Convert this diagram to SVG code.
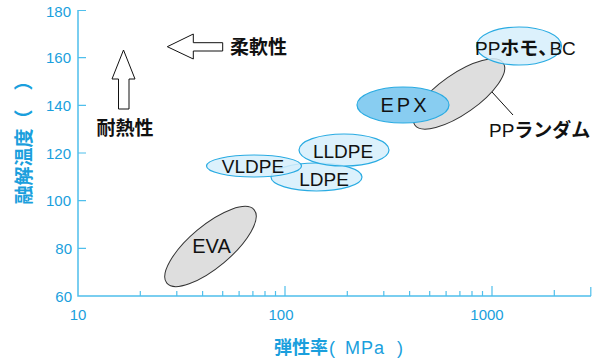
<svg xmlns="http://www.w3.org/2000/svg" width="605" height="364" viewBox="0 0 605 364">
  <style>
    .axis { stroke: #4fbfec; stroke-width: 1.5; fill: none; }
    .tick { stroke: #4fbfec; stroke-width: 1.2; fill: none; }
    .num { font-family: "Liberation Sans", Arial, sans-serif; font-size: 15px; fill: #1a9fdd; }
    .ylab { text-anchor: end; }
    .xlab { text-anchor: middle; }
    .title { font-family: "Noto Sans CJK JP", "Liberation Sans", sans-serif; font-weight: bold; fill: #1a9fdd; }
    .latin { font-family: "Liberation Sans", Arial, sans-serif; font-weight: normal; }
    .gray { fill: #dedede; stroke: #333; stroke-width: 1; }
    .pale { fill: #d6eefb; fill-opacity: 0.85; stroke: #29abe2; stroke-width: 1.2; }
    .mid { fill: #88cdf1; stroke: #29abe2; stroke-width: 1.2; }
    .lbl { font-family: "Liberation Sans", Arial, sans-serif; fill: #111; }
    .jp { font-family: "Noto Sans CJK JP", sans-serif; font-weight: bold; }
    .note { font-family: "Noto Sans CJK JP", sans-serif; font-weight: bold; fill: #111; }
    .arrow { fill: #fff; stroke: #111; stroke-width: 1; }
  </style>

  <!-- axes -->
  <g id="axes">
    <path class="axis" d="M78,10 V296 H591"/>
    <!-- y ticks -->
    <path class="tick" d="M78,10.5h8M78,57.7h8M78,105.3h8M78,153h8M78,200.7h8M78,248.3h8"/>
    <!-- x ticks: minor -->
    <path class="tick" d="M140.3,296v-5M176.8,296v-5M202.6,296v-5M222.7,296v-5M239.1,296v-5M252.9,296v-5M265,296v-5M275.5,296v-5
      M347.3,296v-5M383.8,296v-5M409.6,296v-5M429.7,296v-5M446.1,296v-5M459.9,296v-5M472,296v-5M482.5,296v-5
      M554.3,296v-6M590.8,296v-9"/>
    <!-- x ticks: major -->
    <path class="tick" d="M285,296v-10M492,296v-10"/>
    <text class="num ylab" x="71" y="16.5">180</text>
    <text class="num ylab" x="71" y="63.2">160</text>
    <text class="num ylab" x="71" y="110.8">140</text>
    <text class="num ylab" x="71" y="158.5">120</text>
    <text class="num ylab" x="71" y="206.2">100</text>
    <text class="num ylab" x="72" y="253.8">80</text>
    <text class="num ylab" x="72" y="301.5">60</text>
    <text class="num xlab" x="78" y="320">10</text>
    <text class="num xlab" x="281" y="320">100</text>
    <text class="num xlab" x="487" y="320">1000</text>
    <text class="title" x="274" y="354" style="font-size:18px">弾性率<tspan class="latin" x="329">(</tspan><tspan class="latin" x="345" letter-spacing="1">MPa</tspan><tspan class="latin" x="397">)</tspan></text>
    <text class="title" transform="translate(31,138) rotate(-90)" style="font-size:19px; text-anchor:middle">融解温度（　）</text>
  </g>

  <!-- direction arrows -->
  <g id="heat-arrow">
    <polygon class="arrow" points="123.5,50 135,79 129,79 129,109 118.5,109 118.5,79 112,79"/>
    <text class="note" x="125" y="135" style="font-size:19px; text-anchor:middle">耐熱性</text>
  </g>
  <g id="soft-arrow">
    <polygon class="arrow" points="167.3,46.7 193.3,34 193.3,42.7 222.7,42.7 222.7,51 193.3,51 193.3,59"/>
    <text class="note" x="230" y="54" style="font-size:19px">柔軟性</text>
  </g>

  <!-- connectors -->
  <g id="connectors">
    <line x1="492" y1="92" x2="513" y2="115" stroke="#111" stroke-width="1"/>
  </g>

  <!-- material regions -->
  <g id="eva">
    <ellipse class="gray" cx="210.5" cy="246.5" rx="57" ry="21" transform="rotate(-40 210.5 246.5)"/>
    <text class="lbl" x="211.5" y="253" style="font-size:20px; text-anchor:middle">EVA</text>
  </g>
  <g id="pp-random">
    <ellipse class="gray" cx="459" cy="94" rx="54" ry="20" transform="rotate(-35 459 94)"/>
    <text class="note" x="489" y="137" style="font-size:19px"><tspan class="latin">PP</tspan>ランダム</text>
  </g>
  <g id="epx">
    <ellipse class="mid" cx="403" cy="105" rx="46" ry="18"/>
    <text class="lbl" x="405" y="111.5" style="font-size:20px; text-anchor:middle" letter-spacing="3">EPX</text>
  </g>
  <g id="pp-homo">
    <ellipse class="pale" cx="519" cy="46" rx="42.5" ry="19"/>
    <text class="lbl" x="475" y="55" style="font-size:19px">PP<tspan class="jp">ホモ、</tspan><tspan dx="-8">BC</tspan></text>
  </g>
  <g id="ldpe">
    <ellipse class="pale" cx="316.5" cy="177" rx="45.5" ry="14"/>
    <text class="lbl" x="324" y="185.5" style="font-size:19px; text-anchor:middle">LDPE</text>
  </g>
  <g id="lldpe">
    <ellipse class="pale" cx="344" cy="150" rx="45" ry="16"/>
    <text class="lbl" x="343" y="158" style="font-size:19px; text-anchor:middle">LLDPE</text>
  </g>
  <g id="vldpe">
    <ellipse class="pale" cx="254" cy="166" rx="47.5" ry="11"/>
    <text class="lbl" x="253" y="173" style="font-size:19px; text-anchor:middle">VLDPE</text>
  </g>
</svg>
